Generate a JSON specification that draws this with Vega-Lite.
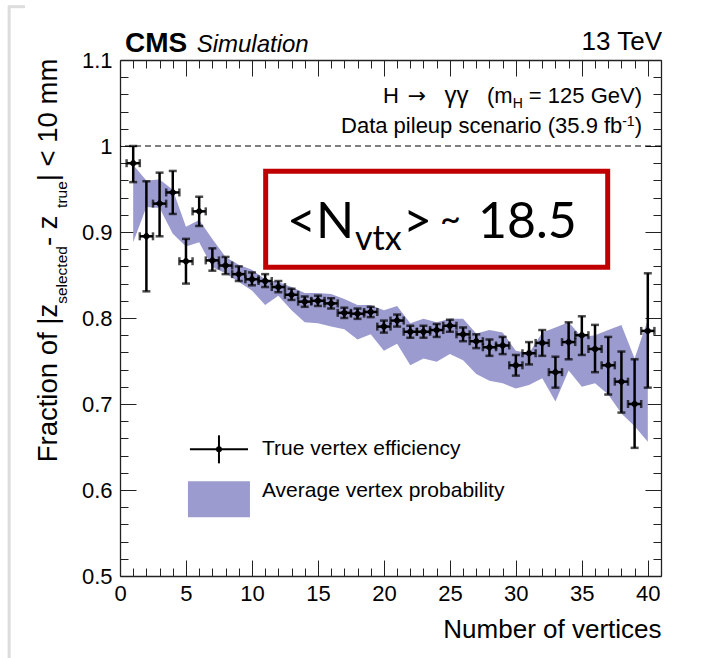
{
  "$schema": "https://vega.github.io/schema/vega-lite/v6.json",
  "width": 541,
  "height": 516,
  "autosize": "none",
  "padding": {"left": 120, "top": 60, "right": 66, "bottom": 82},
  "background": "white",
  "config": {
    "view": {"stroke": null},
    "font": "Liberation Sans",
    "axis": {
      "domainColor": "#222",
      "domainWidth": 1.3,
      "tickColor": "#222",
      "tickWidth": 1,
      "grid": false,
      "labelColor": "black",
      "labelFont": "Liberation Sans",
      "labelFontSize": 22,
      "labelOverlap": false,
      "labelFlush": false,
      "labelBound": false,
      "titleColor": "black",
      "titleFont": "Liberation Sans",
      "titleFontWeight": "normal"
    }
  },
  "datasets": {
    "pts": [
      {"x": 1, "xlo": 0.5, "xhi": 1.5, "y": 0.980, "lo": 0.958, "hi": 1.000},
      {"x": 2, "xlo": 1.5, "xhi": 2.5, "y": 0.895, "lo": 0.831, "hi": 0.959},
      {"x": 3, "xlo": 2.5, "xhi": 3.5, "y": 0.933, "lo": 0.895, "hi": 0.969},
      {"x": 4, "xlo": 3.5, "xhi": 4.5, "y": 0.946, "lo": 0.921, "hi": 0.971},
      {"x": 5, "xlo": 4.5, "xhi": 5.5, "y": 0.866, "lo": 0.840, "hi": 0.892},
      {"x": 6, "xlo": 5.5, "xhi": 6.5, "y": 0.924, "lo": 0.907, "hi": 0.941},
      {"x": 7, "xlo": 6.5, "xhi": 7.5, "y": 0.867, "lo": 0.855, "hi": 0.881},
      {"x": 8, "xlo": 7.5, "xhi": 8.5, "y": 0.861, "lo": 0.851, "hi": 0.871},
      {"x": 9, "xlo": 8.5, "xhi": 9.5, "y": 0.851, "lo": 0.843, "hi": 0.860},
      {"x": 10, "xlo": 9.5, "xhi": 10.5, "y": 0.845, "lo": 0.838, "hi": 0.853},
      {"x": 11, "xlo": 10.5, "xhi": 11.5, "y": 0.843, "lo": 0.836, "hi": 0.851},
      {"x": 12, "xlo": 11.5, "xhi": 12.5, "y": 0.836, "lo": 0.830, "hi": 0.843},
      {"x": 13, "xlo": 12.5, "xhi": 13.5, "y": 0.827, "lo": 0.821, "hi": 0.834},
      {"x": 14, "xlo": 13.5, "xhi": 14.5, "y": 0.819, "lo": 0.813, "hi": 0.825},
      {"x": 15, "xlo": 14.5, "xhi": 15.5, "y": 0.820, "lo": 0.814, "hi": 0.826},
      {"x": 16, "xlo": 15.5, "xhi": 16.5, "y": 0.817, "lo": 0.811, "hi": 0.823},
      {"x": 17, "xlo": 16.5, "xhi": 17.5, "y": 0.806, "lo": 0.800, "hi": 0.812},
      {"x": 18, "xlo": 17.5, "xhi": 18.5, "y": 0.805, "lo": 0.799, "hi": 0.811},
      {"x": 19, "xlo": 18.5, "xhi": 19.5, "y": 0.807, "lo": 0.801, "hi": 0.813},
      {"x": 20, "xlo": 19.5, "xhi": 20.5, "y": 0.790, "lo": 0.783, "hi": 0.797},
      {"x": 21, "xlo": 20.5, "xhi": 21.5, "y": 0.797, "lo": 0.790, "hi": 0.804},
      {"x": 22, "xlo": 21.5, "xhi": 22.5, "y": 0.784, "lo": 0.777, "hi": 0.791},
      {"x": 23, "xlo": 22.5, "xhi": 23.5, "y": 0.784, "lo": 0.777, "hi": 0.791},
      {"x": 24, "xlo": 23.5, "xhi": 24.5, "y": 0.786, "lo": 0.778, "hi": 0.793},
      {"x": 25, "xlo": 24.5, "xhi": 25.5, "y": 0.791, "lo": 0.784, "hi": 0.798},
      {"x": 26, "xlo": 25.5, "xhi": 26.5, "y": 0.781, "lo": 0.773, "hi": 0.789},
      {"x": 27, "xlo": 26.5, "xhi": 27.5, "y": 0.773, "lo": 0.765, "hi": 0.781},
      {"x": 28, "xlo": 27.5, "xhi": 28.5, "y": 0.766, "lo": 0.756, "hi": 0.775},
      {"x": 29, "xlo": 28.5, "xhi": 29.5, "y": 0.768, "lo": 0.758, "hi": 0.778},
      {"x": 30, "xlo": 29.5, "xhi": 30.5, "y": 0.745, "lo": 0.733, "hi": 0.757},
      {"x": 31, "xlo": 30.5, "xhi": 31.5, "y": 0.759, "lo": 0.746, "hi": 0.772},
      {"x": 32, "xlo": 31.5, "xhi": 32.5, "y": 0.771, "lo": 0.756, "hi": 0.786},
      {"x": 33, "xlo": 32.5, "xhi": 33.5, "y": 0.737, "lo": 0.719, "hi": 0.755},
      {"x": 34, "xlo": 33.5, "xhi": 34.5, "y": 0.772, "lo": 0.752, "hi": 0.795},
      {"x": 35, "xlo": 34.5, "xhi": 35.5, "y": 0.780, "lo": 0.757, "hi": 0.802},
      {"x": 36, "xlo": 35.5, "xhi": 36.5, "y": 0.764, "lo": 0.737, "hi": 0.792},
      {"x": 37, "xlo": 36.5, "xhi": 37.5, "y": 0.745, "lo": 0.711, "hi": 0.778},
      {"x": 38, "xlo": 37.5, "xhi": 38.5, "y": 0.726, "lo": 0.690, "hi": 0.761},
      {"x": 39, "xlo": 38.5, "xhi": 39.5, "y": 0.700, "lo": 0.649, "hi": 0.752},
      {"x": 40, "xlo": 39.5, "xhi": 40.5, "y": 0.785, "lo": 0.719, "hi": 0.852}
    ],
    "band": [
      {"x": 1, "lo": 0.888, "hi": 0.978},
      {"x": 2, "lo": 0.929, "hi": 0.960},
      {"x": 3, "lo": 0.928, "hi": 0.961},
      {"x": 4, "lo": 0.898, "hi": 0.949},
      {"x": 5, "lo": 0.883, "hi": 0.906},
      {"x": 6, "lo": 0.888, "hi": 0.914},
      {"x": 7, "lo": 0.859, "hi": 0.892},
      {"x": 8, "lo": 0.852, "hi": 0.871},
      {"x": 9, "lo": 0.842, "hi": 0.862},
      {"x": 10, "lo": 0.832, "hi": 0.856},
      {"x": 11, "lo": 0.815, "hi": 0.845},
      {"x": 12, "lo": 0.826, "hi": 0.842},
      {"x": 13, "lo": 0.809, "hi": 0.836},
      {"x": 14, "lo": 0.795, "hi": 0.829},
      {"x": 15, "lo": 0.794, "hi": 0.829},
      {"x": 16, "lo": 0.790, "hi": 0.828},
      {"x": 17, "lo": 0.787, "hi": 0.822},
      {"x": 18, "lo": 0.775, "hi": 0.815},
      {"x": 19, "lo": 0.781, "hi": 0.815},
      {"x": 20, "lo": 0.762, "hi": 0.809},
      {"x": 21, "lo": 0.770, "hi": 0.814},
      {"x": 22, "lo": 0.745, "hi": 0.794},
      {"x": 23, "lo": 0.753, "hi": 0.799},
      {"x": 24, "lo": 0.749, "hi": 0.795},
      {"x": 25, "lo": 0.758, "hi": 0.799},
      {"x": 26, "lo": 0.751, "hi": 0.799},
      {"x": 27, "lo": 0.735, "hi": 0.782},
      {"x": 28, "lo": 0.727, "hi": 0.786},
      {"x": 29, "lo": 0.724, "hi": 0.783},
      {"x": 30, "lo": 0.718, "hi": 0.762},
      {"x": 31, "lo": 0.722, "hi": 0.759},
      {"x": 32, "lo": 0.730, "hi": 0.783},
      {"x": 33, "lo": 0.703, "hi": 0.789},
      {"x": 34, "lo": 0.739, "hi": 0.795},
      {"x": 35, "lo": 0.720, "hi": 0.778},
      {"x": 36, "lo": 0.724, "hi": 0.780},
      {"x": 37, "lo": 0.711, "hi": 0.786},
      {"x": 38, "lo": 0.689, "hi": 0.792},
      {"x": 39, "lo": 0.674, "hi": 0.753},
      {"x": 40, "lo": 0.656, "hi": 0.798}
    ]
  },
  "layer": [
    {
      "data": {"name": "band"},
      "mark": {"type": "area", "color": "#9b9bcf", "opacity": 1},
      "encoding": {
        "x": {"field": "x", "type": "quantitative", "scale": {"domain": [0, 41], "nice": false, "zero": false},
          "axis": {"orient": "bottom", "values": [0,1,2,3,4,5,6,7,8,9,10,11,12,13,14,15,16,17,18,19,20,21,22,23,24,25,26,27,28,29,30,31,32,33,34,35,36,37,38,39,40,41],
            "labelExpr": "datum.value % 5 === 0 && datum.value <= 40 ? toString(datum.value) : ''",
            "labelOverlap": false, "labelFlush": false, "labelBound": false,
            "tickSize": {"condition": {"test": "datum.value % 5 === 0", "value": -16}, "value": -8},
            "labelPadding": 23,
            "title": "Number of vertices", "titleFontSize": 26, "titleAnchor": "end", "titlePadding": 4}},
        "y": {"field": "lo", "type": "quantitative", "scale": {"domain": [0.5, 1.1], "nice": false, "zero": false},
          "axis": {"orient": "left", "values": [0.5,0.52,0.54,0.56,0.58,0.6,0.62,0.64,0.66,0.68,0.7,0.72,0.74,0.76,0.78,0.8,0.82,0.84,0.86,0.88,0.9,0.92,0.94,0.96,0.98,1,1.02,1.04,1.06,1.08,1.1],
            "labelExpr": "abs(round(datum.value*100) % 10) === 0 ? toString(round(datum.value*10)/10) : ''",
            "labelOverlap": false, "labelFlush": false,
            "tickSize": {"condition": {"test": "abs(round(datum.value*100) % 10) === 0", "value": -16}, "value": -8},
            "labelPadding": 24,
            "title": null}},
        "y2": {"field": "hi"}
      }
    },
    {
      "data": {"name": "band"},
      "mark": {"type": "point", "opacity": 0},
      "encoding": {
        "x": {"field": "x", "type": "quantitative", "scale": {"domain": [0, 41], "nice": false, "zero": false},
          "axis": {"orient": "top", "values": [0,1,2,3,4,5,6,7,8,9,10,11,12,13,14,15,16,17,18,19,20,21,22,23,24,25,26,27,28,29,30,31,32,33,34,35,36,37,38,39,40,41],
            "labels": false, "title": null,
            "tickSize": {"condition": {"test": "datum.value % 5 === 0", "value": -16}, "value": -8}}},
        "y": {"field": "lo", "type": "quantitative", "scale": {"domain": [0.5, 1.1], "nice": false, "zero": false},
          "axis": {"orient": "right", "values": [0.5,0.52,0.54,0.56,0.58,0.6,0.62,0.64,0.66,0.68,0.7,0.72,0.74,0.76,0.78,0.8,0.82,0.84,0.86,0.88,0.9,0.92,0.94,0.96,0.98,1,1.02,1.04,1.06,1.08,1.1],
            "labels": false, "title": null,
            "tickSize": {"condition": {"test": "abs(round(datum.value*100) % 10) === 0", "value": -16}, "value": -8}}}
      }
    },
    {
      "data": {"values": [{"x": -8.4, "y": 0.404, "y2": 1.162}]},
      "mark": {"type": "rule", "color": "#dddddd", "strokeWidth": 3},
      "encoding": {
        "x": {"field": "x", "type": "quantitative", "scale": {"domain": [0, 41], "nice": false, "zero": false}, "axis": null},
        "y": {"field": "y", "type": "quantitative", "scale": {"domain": [0.5, 1.1], "nice": false, "zero": false}, "axis": null},
        "y2": {"field": "y2"}
      }
    },
    {
      "data": {"values": [{"x": -8.5, "x2": -7.2, "y": 1.162}]},
      "mark": {"type": "rule", "color": "#dddddd", "strokeWidth": 3},
      "encoding": {
        "x": {"field": "x", "type": "quantitative", "scale": {"domain": [0, 41], "nice": false, "zero": false}, "axis": null},
        "x2": {"field": "x2"},
        "y": {"field": "y", "type": "quantitative", "scale": {"domain": [0.5, 1.1], "nice": false, "zero": false}, "axis": null}
      }
    },
    {
      "data": {"values": [{"y": 1}]},
      "mark": {"type": "rule", "strokeDash": [6, 4], "color": "black", "strokeWidth": 1},
      "encoding": {
        "y": {"field": "y", "type": "quantitative", "scale": {"domain": [0.5, 1.1], "nice": false, "zero": false}, "axis": null}
      }
    },
    {
      "data": {"name": "pts"},
      "mark": {"type": "rule", "color": "black", "strokeWidth": 2.5},
      "encoding": {
        "x": {"field": "x", "type": "quantitative", "scale": {"domain": [0, 41], "nice": false, "zero": false}, "axis": null},
        "y": {"field": "lo", "type": "quantitative", "scale": {"domain": [0.5, 1.1], "nice": false, "zero": false}, "axis": null},
        "y2": {"field": "hi"}
      }
    },
    {
      "data": {"name": "pts"},
      "mark": {"type": "rule", "color": "black", "strokeWidth": 2.5},
      "encoding": {
        "x": {"field": "xlo", "type": "quantitative", "scale": {"domain": [0, 41], "nice": false, "zero": false}, "axis": null},
        "x2": {"field": "xhi"},
        "y": {"field": "y", "type": "quantitative", "scale": {"domain": [0.5, 1.1], "nice": false, "zero": false}, "axis": null}
      }
    },
    {
      "data": {"name": "pts"},
      "mark": {"type": "tick", "orient": "horizontal", "color": "black", "size": 8, "thickness": 2.5},
      "encoding": {
        "x": {"field": "x", "type": "quantitative", "scale": {"domain": [0, 41], "nice": false, "zero": false}, "axis": null},
        "y": {"field": "lo", "type": "quantitative", "scale": {"domain": [0.5, 1.1], "nice": false, "zero": false}, "axis": null}
      }
    },
    {
      "data": {"name": "pts"},
      "mark": {"type": "tick", "orient": "horizontal", "color": "black", "size": 8, "thickness": 2.5},
      "encoding": {
        "x": {"field": "x", "type": "quantitative", "scale": {"domain": [0, 41], "nice": false, "zero": false}, "axis": null},
        "y": {"field": "hi", "type": "quantitative", "scale": {"domain": [0.5, 1.1], "nice": false, "zero": false}, "axis": null}
      }
    },
    {
      "data": {"name": "pts"},
      "mark": {"type": "tick", "orient": "vertical", "color": "black", "size": 8, "thickness": 2.5},
      "encoding": {
        "x": {"field": "xlo", "type": "quantitative", "scale": {"domain": [0, 41], "nice": false, "zero": false}, "axis": null},
        "y": {"field": "y", "type": "quantitative", "scale": {"domain": [0.5, 1.1], "nice": false, "zero": false}, "axis": null}
      }
    },
    {
      "data": {"name": "pts"},
      "mark": {"type": "tick", "orient": "vertical", "color": "black", "size": 8, "thickness": 2.5},
      "encoding": {
        "x": {"field": "xhi", "type": "quantitative", "scale": {"domain": [0, 41], "nice": false, "zero": false}, "axis": null},
        "y": {"field": "y", "type": "quantitative", "scale": {"domain": [0.5, 1.1], "nice": false, "zero": false}, "axis": null}
      }
    },
    {
      "data": {"name": "pts"},
      "mark": {"type": "point", "shape": "diamond", "filled": true, "color": "black", "size": 70, "opacity": 1},
      "encoding": {
        "x": {"field": "x", "type": "quantitative", "scale": {"domain": [0, 41], "nice": false, "zero": false}, "axis": null},
        "y": {"field": "y", "type": "quantitative", "scale": {"domain": [0.5, 1.1], "nice": false, "zero": false}, "axis": null}
      }
    },
    {
      "data": {"values": [{"x": 5.3, "x2": 9.7, "y": 0.6473}]},
      "mark": {"type": "rule", "color": "black", "strokeWidth": 2},
      "encoding": {
        "x": {"field": "x", "type": "quantitative", "scale": {"domain": [0, 41], "nice": false, "zero": false}, "axis": null},
        "x2": {"field": "x2"},
        "y": {"field": "y", "type": "quantitative", "scale": {"domain": [0.5, 1.1], "nice": false, "zero": false}, "axis": null}
      }
    },
    {
      "data": {"values": [{"x": 7.5, "y": 0.631, "y2": 0.6636}]},
      "mark": {"type": "rule", "color": "black", "strokeWidth": 2},
      "encoding": {
        "x": {"field": "x", "type": "quantitative", "scale": {"domain": [0, 41], "nice": false, "zero": false}, "axis": null},
        "y": {"field": "y", "type": "quantitative", "scale": {"domain": [0.5, 1.1], "nice": false, "zero": false}, "axis": null},
        "y2": {"field": "y2"}
      }
    },
    {
      "data": {"values": [{"x": 7.5, "y": 0.6473}]},
      "mark": {"type": "point", "filled": true, "color": "black", "size": 35, "opacity": 1},
      "encoding": {
        "x": {"field": "x", "type": "quantitative", "scale": {"domain": [0, 41], "nice": false, "zero": false}, "axis": null},
        "y": {"field": "y", "type": "quantitative", "scale": {"domain": [0.5, 1.1], "nice": false, "zero": false}, "axis": null}
      }
    },
    {
      "data": {"values": [{"x": 5.15, "x2": 9.85, "y": 0.5682, "y2": 0.6101}]},
      "mark": {"type": "rect", "color": "#9b9bcf", "opacity": 1},
      "encoding": {
        "x": {"field": "x", "type": "quantitative", "scale": {"domain": [0, 41], "nice": false, "zero": false}, "axis": null},
        "x2": {"field": "x2"},
        "y": {"field": "y", "type": "quantitative", "scale": {"domain": [0.5, 1.1], "nice": false, "zero": false}, "axis": null},
        "y2": {"field": "y2"}
      }
    },
    {
      "data": {"values": [{"x": 10.76, "y": 0.6473, "t": "True vertex efficiency"}, {"x": 10.76, "y": 0.5994, "t": "Average vertex probability"}]},
      "mark": {"type": "text", "align": "left", "baseline": "middle", "font": "Liberation Sans", "fontSize": 21, "color": "black"},
      "encoding": {
        "x": {"field": "x", "type": "quantitative", "scale": {"domain": [0, 41], "nice": false, "zero": false}, "axis": null},
        "y": {"field": "y", "type": "quantitative", "scale": {"domain": [0.5, 1.1], "nice": false, "zero": false}, "axis": null},
        "text": {"field": "t"}
      }
    },
    {
      "data": {"values": [{"x": 11.04, "x2": 36.96, "y": 0.859, "y2": 0.9706}]},
      "mark": {"type": "rect", "fill": null, "fillOpacity": 0, "stroke": "#c00000", "strokeWidth": 5},
      "encoding": {
        "x": {"field": "x", "type": "quantitative", "scale": {"domain": [0, 41], "nice": false, "zero": false}, "axis": null},
        "x2": {"field": "x2"},
        "y": {"field": "y", "type": "quantitative", "scale": {"domain": [0.5, 1.1], "nice": false, "zero": false}, "axis": null},
        "y2": {"field": "y2"}
      }
    },
    {
      "data": {"values": [{"x": 12.66, "y": 0.8927, "t": "<N"}, {"x": 21.45, "y": 0.8927, "t": ">"}, {"x": 27.13, "y": 0.8927, "t": "18.5"}]},
      "mark": {"type": "text", "align": "left", "baseline": "alphabetic", "font": "Lato", "fontSize": 50, "color": "black"},
      "encoding": {
        "x": {"field": "x", "type": "quantitative", "scale": {"domain": [0, 41], "nice": false, "zero": false}, "axis": null},
        "y": {"field": "y", "type": "quantitative", "scale": {"domain": [0.5, 1.1], "nice": false, "zero": false}, "axis": null},
        "text": {"field": "t"}
      }
    },
    {
      "data": {"values": [{"x": 17.81, "y": 0.8787, "t": "vtx"}]},
      "mark": {"type": "text", "align": "left", "baseline": "alphabetic", "font": "Lato", "fontSize": 34, "color": "black"},
      "encoding": {
        "x": {"field": "x", "type": "quantitative", "scale": {"domain": [0, 41], "nice": false, "zero": false}, "axis": null},
        "y": {"field": "y", "type": "quantitative", "scale": {"domain": [0.5, 1.1], "nice": false, "zero": false}, "axis": null},
        "text": {"field": "t"}
      }
    },
    {
      "data": {"values": [{"x": 24.25, "y": 0.8997, "t": "~"}]},
      "mark": {"type": "text", "align": "left", "baseline": "alphabetic", "font": "Lato", "fontSize": 36, "color": "black"},
      "encoding": {
        "x": {"field": "x", "type": "quantitative", "scale": {"domain": [0, 41], "nice": false, "zero": false}, "axis": null},
        "y": {"field": "y", "type": "quantitative", "scale": {"domain": [0.5, 1.1], "nice": false, "zero": false}, "axis": null},
        "text": {"field": "t"}
      }
    },
    {
      "data": {"values": [{"x": 0.38, "y": 1.109, "t": "CMS"}]},
      "mark": {"type": "text", "align": "left", "baseline": "alphabetic", "font": "Liberation Sans", "fontWeight": "bold", "fontSize": 28, "color": "black"},
      "encoding": {
        "x": {"field": "x", "type": "quantitative", "scale": {"domain": [0, 41], "nice": false, "zero": false}, "axis": null},
        "y": {"field": "y", "type": "quantitative", "scale": {"domain": [0.5, 1.1], "nice": false, "zero": false}, "axis": null},
        "text": {"field": "t"}
      }
    },
    {
      "data": {"values": [{"x": 5.81, "y": 1.109, "t": "Simulation"}]},
      "mark": {"type": "text", "align": "left", "baseline": "alphabetic", "font": "Liberation Sans", "fontStyle": "italic", "fontSize": 24, "color": "black"},
      "encoding": {
        "x": {"field": "x", "type": "quantitative", "scale": {"domain": [0, 41], "nice": false, "zero": false}, "axis": null},
        "y": {"field": "y", "type": "quantitative", "scale": {"domain": [0.5, 1.1], "nice": false, "zero": false}, "axis": null},
        "text": {"field": "t"}
      }
    },
    {
      "data": {"values": [{"x": 41.08, "y": 1.1113, "t": "13 TeV"}]},
      "mark": {"type": "text", "align": "right", "baseline": "alphabetic", "font": "Liberation Sans", "fontSize": 26, "color": "black"},
      "encoding": {
        "x": {"field": "x", "type": "quantitative", "scale": {"domain": [0, 41], "nice": false, "zero": false}, "axis": null},
        "y": {"field": "y", "type": "quantitative", "scale": {"domain": [0.5, 1.1], "nice": false, "zero": false}, "axis": null},
        "text": {"field": "t"}
      }
    },
    {
      "data": {"values": [
        {"x": 29.76, "y": 1.0497, "t": "(m"},
        {"x": 39.56, "y": 1.0497, "t": " = 125 GeV)"},
        {"x": 38.07, "y": 1.0148, "t": "Data pileup scenario (35.9 fb"},
        {"x": 39.56, "y": 1.0148, "t": ")"}
      ]},
      "mark": {"type": "text", "align": "right", "baseline": "alphabetic", "font": "Liberation Sans", "fontSize": 22, "color": "black"},
      "encoding": {
        "x": {"field": "x", "type": "quantitative", "scale": {"domain": [0, 41], "nice": false, "zero": false}, "axis": null},
        "y": {"field": "y", "type": "quantitative", "scale": {"domain": [0.5, 1.1], "nice": false, "zero": false}, "axis": null},
        "text": {"field": "t"}
      }
    },
    {
      "data": {"values": [{"x": 19.93, "y": 1.0497, "t": "H"}]},
      "mark": {"type": "text", "align": "left", "baseline": "alphabetic", "font": "Liberation Sans", "fontSize": 22, "color": "black"},
      "encoding": {
        "x": {"field": "x", "type": "quantitative", "scale": {"domain": [0, 41], "nice": false, "zero": false}, "axis": null},
        "y": {"field": "y", "type": "quantitative", "scale": {"domain": [0.5, 1.1], "nice": false, "zero": false}, "axis": null},
        "text": {"field": "t"}
      }
    },
    {
      "data": {"values": [{"x": 24.6, "y": 1.0497, "t": "γγ"}]},
      "mark": {"type": "text", "align": "left", "baseline": "alphabetic", "font": "Liberation Sans", "fontSize": 24, "color": "black"},
      "encoding": {
        "x": {"field": "x", "type": "quantitative", "scale": {"domain": [0, 41], "nice": false, "zero": false}, "axis": null},
        "y": {"field": "y", "type": "quantitative", "scale": {"domain": [0.5, 1.1], "nice": false, "zero": false}, "axis": null},
        "text": {"field": "t"}
      }
    },
    {
      "data": {"values": [{"x": 21.8, "y": 1.0497, "t": "→"}]},
      "mark": {"type": "text", "align": "left", "baseline": "alphabetic", "font": "DejaVu Sans", "fontSize": 22, "color": "black"},
      "encoding": {
        "x": {"field": "x", "type": "quantitative", "scale": {"domain": [0, 41], "nice": false, "zero": false}, "axis": null},
        "y": {"field": "y", "type": "quantitative", "scale": {"domain": [0.5, 1.1], "nice": false, "zero": false}, "axis": null},
        "text": {"field": "t"}
      }
    },
    {
      "data": {"values": [
        {"x": 30.53, "y": 1.0438, "t": "H"},
        {"x": 39.0, "y": 1.0229, "t": "-1"}
      ]},
      "mark": {"type": "text", "align": "right", "baseline": "alphabetic", "font": "Liberation Sans", "fontSize": 14, "color": "black"},
      "encoding": {
        "x": {"field": "x", "type": "quantitative", "scale": {"domain": [0, 41], "nice": false, "zero": false}, "axis": null},
        "y": {"field": "y", "type": "quantitative", "scale": {"domain": [0.5, 1.1], "nice": false, "zero": false}, "axis": null},
        "text": {"field": "t"}
      }
    },
    {
      "data": {"values": [
        {"x": -4.77, "y": 0.6322, "t": "Fraction of |z"},
        {"x": -4.77, "y": 0.8836, "t": " - z"},
        {"x": -4.77, "y": 0.9591, "t": "| < 10 mm"}
      ]},
      "mark": {"type": "text", "align": "left", "baseline": "alphabetic", "angle": 270, "font": "Liberation Sans", "fontSize": 27.5, "color": "black"},
      "encoding": {
        "x": {"field": "x", "type": "quantitative", "scale": {"domain": [0, 41], "nice": false, "zero": false}, "axis": null},
        "y": {"field": "y", "type": "quantitative", "scale": {"domain": [0.5, 1.1], "nice": false, "zero": false}, "axis": null},
        "text": {"field": "t"}
      }
    },
    {
      "data": {"values": [
        {"x": -4.02, "y": 0.8165, "t": "selected"},
        {"x": -4.02, "y": 0.928, "t": "true"}
      ]},
      "mark": {"type": "text", "align": "left", "baseline": "alphabetic", "angle": 270, "font": "Liberation Sans", "fontSize": 15.5, "color": "black"},
      "encoding": {
        "x": {"field": "x", "type": "quantitative", "scale": {"domain": [0, 41], "nice": false, "zero": false}, "axis": null},
        "y": {"field": "y", "type": "quantitative", "scale": {"domain": [0.5, 1.1], "nice": false, "zero": false}, "axis": null},
        "text": {"field": "t"}
      }
    }
  ],
  "resolve": {"axis": {"x": "independent", "y": "independent"}}
}
